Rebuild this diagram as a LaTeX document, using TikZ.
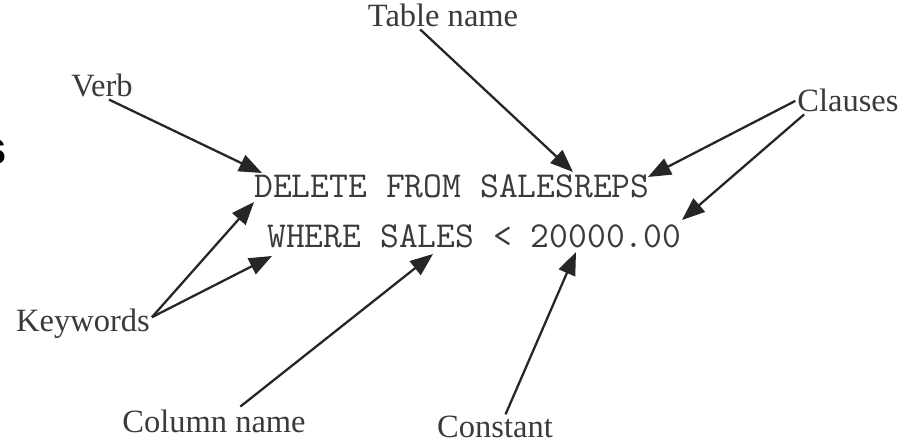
\documentclass[tikz,border=0pt]{standalone}
\usepackage{fontspec}
\setmainfont{Liberation Serif}
\setsansfont{Liberation Sans}
\usetikzlibrary{arrows.meta}
\definecolor{tinta}{RGB}{58,58,58}
\definecolor{flecha}{RGB}{38,38,38}

\begin{document}
\begin{tikzpicture}[x=0.02cm,y=-0.02cm,
etiqueta/.style={font=\fontsize{18.5}{21}\selectfont,text=tinta,inner sep=1pt,anchor=base},
codigo/.style={font=\ttfamily\fontsize{20.8}{23}\selectfont,text=tinta,inner sep=0pt,anchor=base west},
arr/.style={-{Triangle[length=13pt,width=10pt]},line width=1.3pt,draw=flecha}
]
\useasboundingbox (0,0) rectangle (916,445);
\clip (0,0) rectangle (916,445);

\node[font=\sffamily\bfseries\fontsize{27}{30}\selectfont,inner sep=0pt,anchor=base east] (letra) at (7,165) {s};

\node[codigo] (linea1) at (254,198) {DELETE FROM SALESREPS};
\node[codigo] (linea2) at (267,248) {WHERE SALES < 20000.00};

\node[etiqueta] (verbo) at (102,97) {Verb};
\node[etiqueta] (tabla) at (443,27) {Table name};
\node[etiqueta] (clausulas) at (848,112) {Clauses};
\node[etiqueta] (claves) at (83,332) {Keywords};
\node[etiqueta] (columna) at (214,433) {Column name};
\node[etiqueta] (constante) at (495,438) {Constant};

\coordinate (pverbo) at (262,173);
\coordinate (ptabla) at (573,172);
\coordinate (pclaus1) at (648,177);
\coordinate (pclaus2) at (682,220);
\coordinate (pclave1) at (254,202);
\coordinate (pclave2) at (272,256);
\coordinate (pcolumna) at (433,254);
\coordinate (pconst) at (576,252);

\draw[arr] ([xshift=4pt]verbo.south) -- (pverbo);
\draw[arr] ([xshift=-13pt]tabla.south) -- (ptabla);
\draw[arr] (clausulas.west) -- (pclaus1);
\draw[arr] ([xshift=5pt]clausulas.south west) -- (pclaus2);
\draw[arr] ([yshift=4pt]claves.east) -- (pclave1);
\draw[arr] ([yshift=4pt]claves.east) -- (pclave2);
\draw[arr] ([xshift=15pt,yshift=1pt]columna.north) -- (pcolumna);
\draw[arr] ([xshift=6pt]constante.north) -- (pconst);
\end{tikzpicture}
\end{document}
